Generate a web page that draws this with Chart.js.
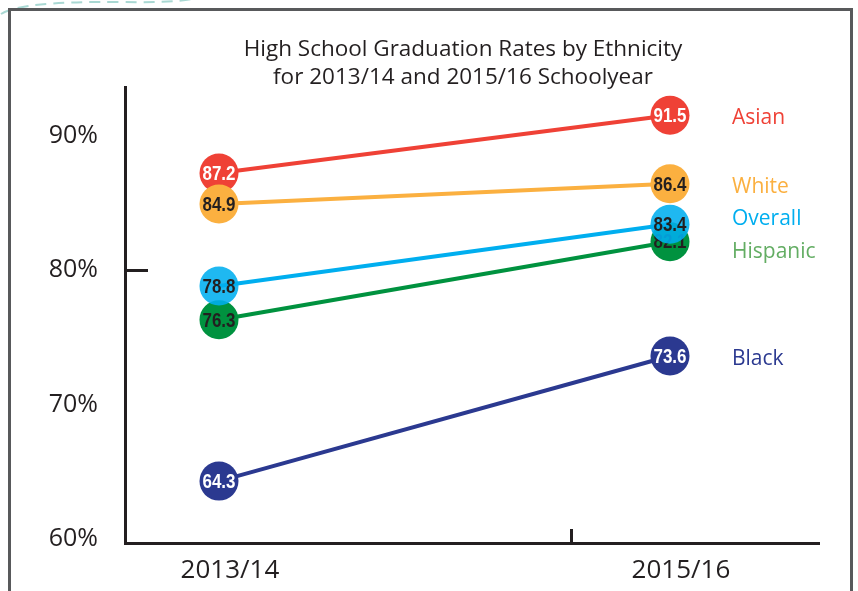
<!DOCTYPE html>
<html>
<head>
<meta charset="utf-8">
<script src="https://cdn.jsdelivr.net/npm/chart.js@4.4.1/dist/chart.umd.min.js"></script>
<style>
  html, body { margin: 0; padding: 0; background: #fff; }
  #wrap { width: 858px; height: 591px; }
</style>
</head>
<body>
<div id="wrap"><canvas id="myChart"></canvas></div>
<script>
const years = ['2013/14', '2015/16'];
const groups = ['Asian', 'White', 'Overall', 'Hispanic', 'Black'];
const rates1314 = [87.2, 84.9, 78.8, 76.3, 64.3];
const rates1516 = [91.5, 86.4, 83.4, 82.1, 73.6];
const yTicks = [60, 70, 80, 90];

const lineColors = ['#ef4136', '#fbb040', '#00aeef', '#00923f', '#2b3990'];
const dotColors = ['#ef4136', '#fbb040', 'rgba(0,174,239,0.88)', '#00923f', '#2b3990'];
const nameColors = ['#ef4136', '#fbb040', '#00aeef', '#63ad63', '#2b3990'];
const valueColors = ['#fff', '#231f20', '#231f20', '#231f20', '#fff'];
const drawOrder = [4, 3, 1, 2, 5];

const ink = '#231f20';
const sans = '"Open Sans", "Noto Sans", sans-serif';

const datasets = groups.map((g, i) => ({
  label: g,
  data: [{x: 0, y: rates1314[i]}, {x: 1, y: rates1516[i]}],
  borderColor: lineColors[i],
  backgroundColor: dotColors[i],
  borderWidth: 4,
  pointRadius: 19.5,
  pointBorderWidth: 0,
  pointBackgroundColor: dotColors[i],
  order: drawOrder[i],
  clip: false
}));

// value inside each dot, drawn right after its own dataset
const dotLabels = {
  id: 'dotLabels',
  afterDatasetDraw(chart, args) {
    const i = args.index;
    const ctx = chart.ctx;
    ctx.save();
    ctx.font = 'bold 21px "Liberation Sans", Arial, sans-serif';
    ctx.fillStyle = valueColors[i];
    ctx.textAlign = 'center';
    ctx.textBaseline = 'middle';
    args.meta.data.forEach((pt, j) => {
      const v = j === 0 ? rates1314[i] : rates1516[i];
      ctx.fillText(v.toFixed(1), pt.x, pt.y + 1, 33);
    });
    ctx.restore();
  }
};

const decor = {
  id: 'decor',
  beforeDraw(chart) {
    const ctx = chart.ctx;
    ctx.save();
    ctx.fillStyle = '#fff';
    ctx.fillRect(0, 0, chart.width, chart.height);
    // faint dashed arc at the top left
    ctx.strokeStyle = '#a9d8d3';
    ctx.lineWidth = 2;
    ctx.setLineDash([11, 7]);
    ctx.beginPath();
    ctx.moveTo(1, 14);
    ctx.quadraticCurveTo(20, 1, 120, 2);
    ctx.quadraticCurveTo(180, 3, 196, -2);
    ctx.stroke();
    ctx.setLineDash([]);
    // frame
    ctx.strokeStyle = '#58595b';
    ctx.lineWidth = 3;
    ctx.beginPath();
    ctx.moveTo(9.5, 600);
    ctx.lineTo(9.5, 9.5);
    ctx.lineTo(851.5, 9.5);
    ctx.lineTo(851.5, 600);
    ctx.stroke();
    ctx.restore();
  },
  afterDraw(chart) {
    const ctx = chart.ctx;
    const {left, right, bottom} = chart.chartArea;
    const y = chart.scales.y;
    ctx.save();
    ctx.fillStyle = ink;
    ctx.font = '22.5px ' + sans;
    ctx.textAlign = 'center';
    ctx.textBaseline = 'alphabetic';
    ctx.fillText('High School Graduation Rates by Ethnicity', 463, 56);
    ctx.fillText('for 2013/14 and 2015/16 Schoolyear', 463, 84);

    // inner ticks
    ctx.strokeStyle = ink;
    ctx.lineWidth = 3;
    ctx.beginPath();
    const y80 = Math.round(y.getPixelForValue(80)) + 0.5;
    ctx.moveTo(left, y80);
    ctx.lineTo(left + 23, y80);
    const xt = Math.round(left + (right - left) * 0.643) + 0.5;
    ctx.moveTo(xt, bottom);
    ctx.lineTo(xt, bottom - 14);
    ctx.stroke();

    // group names at the right end
    const names = groups.map((g, i) => {
      const pt = chart.getDatasetMeta(i).data[1];
      return {i, x: pt.x + 62, y: pt.y + 3};
    }).sort((a, b) => a.y - b.y);
    for (let k = 1; k < names.length; k++) {
      const gap = names[k].y - names[k - 1].y;
      if (gap < 33) {
        const d = (33 - gap) / 2;
        names[k - 1].y -= d;
        names[k].y += d;
      }
    }
    ctx.font = '21px ' + sans;
    ctx.textAlign = 'left';
    ctx.textBaseline = 'middle';
    names.forEach(n => {
      ctx.fillStyle = nameColors[n.i];
      ctx.fillText(groups[n.i], n.x, n.y);
    });
    ctx.restore();
  }
};

new Chart(document.getElementById('myChart'), {
  type: 'line',
  data: { datasets },
  plugins: [dotLabels, decor],
  options: {
    responsive: true,
    maintainAspectRatio: false,
    animation: false,
    layout: { padding: { left: 10, right: 39, top: 87, bottom: 0 } },
    plugins: {
      legend: { display: false },
      title: { display: false },
      tooltip: { enabled: false }
    },
    scales: {
      x: {
        type: 'linear',
        min: -0.2084,
        max: 1.3304,
        afterBuildTicks: s => { s.ticks = [{value: 0}, {value: 1}]; },
        afterFit: s => { s.height = 48; },
        grid: { display: false, drawTicks: false },
        border: { display: true, color: ink, width: 3 },
        ticks: {
          callback: v => years[v],
          color: ink,
          font: { family: sans, size: 26 },
          padding: 12,
          labelOffset: 11,
          maxRotation: 0
        }
      },
      y: {
        min: 59.7,
        max: 93.6,
        afterBuildTicks: s => { s.ticks = yTicks.map(v => ({value: v})); },
        afterFit: s => { s.width = 115; },
        grid: { display: false, drawTicks: false },
        border: { display: true, color: ink, width: 3 },
        ticks: {
          callback: v => v + '%',
          color: ink,
          font: { family: sans, size: 25 },
          padding: 27
        }
      }
    }
  }
});
</script>
</body>
</html>
